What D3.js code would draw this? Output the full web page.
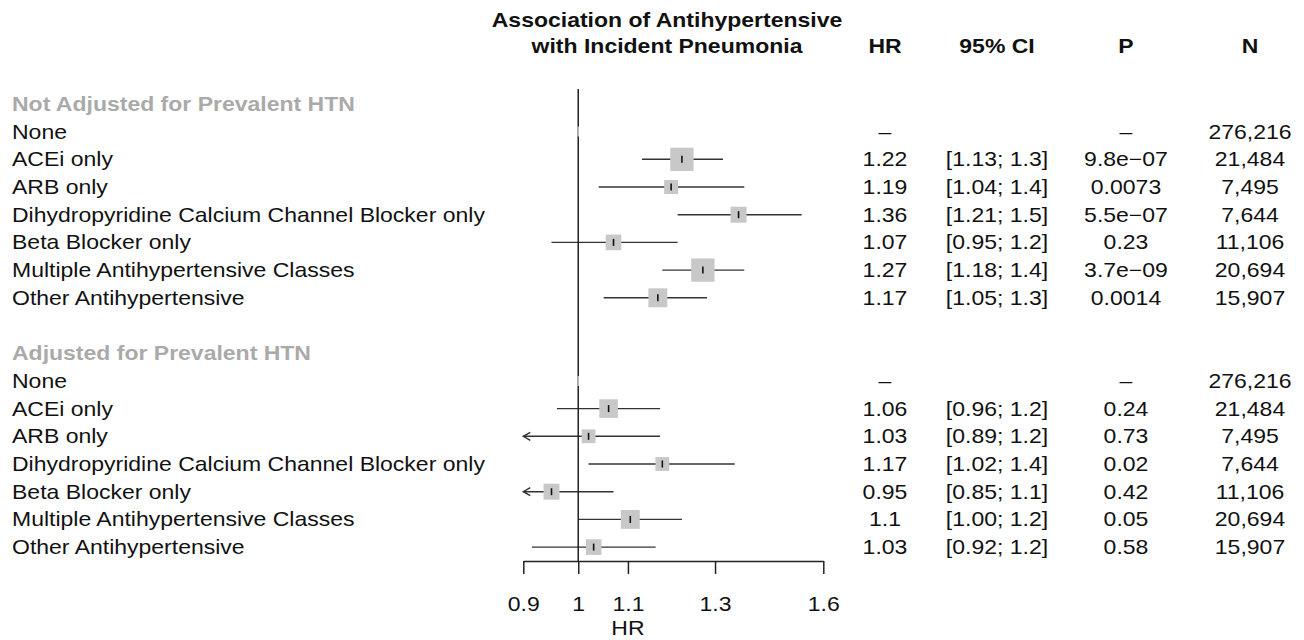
<!DOCTYPE html>
<html>
<head>
<meta charset="utf-8">
<script src="https://cdn.jsdelivr.net/npm/d3@7"></script>
<style>
  html, body { margin: 0; padding: 0; background: #fff; }
  svg { display: block; font-family: "Liberation Sans", Arial, Helvetica, sans-serif; }
</style>
</head>
<body>
<svg id="chart" width="1304" height="640"></svg>
<script>
// ---------------- data ----------------
const titleLines = ["Association of Antihypertensive", "with Incident Pneumonia"];
const columnHeaders = ["HR", "95% CI", "P", "N"];
const groupLabels = ["Not Adjusted for Prevalent HTN", "Adjusted for Prevalent HTN"];
const categories = [
  "None",
  "ACEi only",
  "ARB only",
  "Dihydropyridine Calcium Channel Blocker only",
  "Beta Blocker only",
  "Multiple Antihypertensive Classes",
  "Other Antihypertensive"
];

// Not adjusted
const hrNotAdj    = [1,    1.22, 1.195, 1.36,  1.07, 1.27,  1.165];
const lowerNotAdj = [null, 1.13, 1.04,  1.21,  0.95, 1.175, 1.05];
const upperNotAdj = [null, 1.32, 1.375, 1.535, 1.21, 1.375, 1.28];
const weightNotAdj = [null, 100, 36, 47, 45, 100, 66];
const hrTextNotAdj = ["\u2013", "1.22", "1.19", "1.36", "1.07", "1.27", "1.17"];
const ciTextNotAdj = ["", "[1.13; 1.3]", "[1.04; 1.4]", "[1.21; 1.5]", "[0.95; 1.2]", "[1.18; 1.4]", "[1.05; 1.3]"];
const pTextNotAdj  = ["\u2013", "9.8e\u221207", "0.0073", "5.5e\u221207", "0.23", "3.7e\u221209", "0.0014"];

// Adjusted
const hrAdj    = [1,    1.06, 1.02, 1.175, 0.95, 1.105, 1.03];
const lowerAdj = [null, 0.96, 0.89, 1.02,  0.85, 1.00,  0.915];
const upperAdj = [null, 1.17, 1.17, 1.35,  1.07, 1.22,  1.16];
const weightAdj = [null, 64, 35, 35, 47, 66, 45];
const hrTextAdj = ["\u2013", "1.06", "1.03", "1.17", "0.95", "1.1", "1.03"];
const ciTextAdj = ["", "[0.96; 1.2]", "[0.89; 1.2]", "[1.02; 1.4]", "[0.85; 1.1]", "[1.00; 1.2]", "[0.92; 1.2]"];
const pTextAdj  = ["\u2013", "0.24", "0.73", "0.02", "0.42", "0.05", "0.58"];

const nValues = [276216, 21484, 7495, 7644, 11106, 20694, 15907];

const axisTicks = [0.9, 1, 1.1, 1.3, 1.6];
const axisLabel = "HR";

// ---------------- layout ----------------
const FS = 20, SX = 1.15;
const rowStep = 27.7, row0 = 103.9;
const labelX = 12;
const colX = [885, 997, 1126, 1250];
const lineColor = "#333";
const boxColor = "#c8c8c8";
const grayText = "#aaaaaa";

const svg = d3.select("#chart");
const x = d3.scaleLog().domain([0.9, 1.6]).range([523.3, 823.3]);
const boxSize = d3.scaleSqrt().domain([0, 100]).range([0, 23.3]);

function stext(g, tx, ty, str, opts = {}) {
  return g.append("text")
    .attr("transform", `translate(${tx},${ty}) scale(${SX},1)`)
    .attr("text-anchor", opts.anchor || "start")
    .attr("font-size", FS)
    .attr("font-weight", opts.bold ? "bold" : "normal")
    .attr("fill", opts.fill || "#111")
    .text(str);
}

// build rows
const groups = [
  {label: groupLabels[0], hr: hrNotAdj, lo: lowerNotAdj, hi: upperNotAdj, w: weightNotAdj, hrT: hrTextNotAdj, ciT: ciTextNotAdj, pT: pTextNotAdj},
  {label: groupLabels[1], hr: hrAdj, lo: lowerAdj, hi: upperAdj, w: weightAdj, hrT: hrTextAdj, ciT: ciTextAdj, pT: pTextAdj}
];
const rows = [];
let r = 0;
groups.forEach((g, gi) => {
  rows.push({type: "header", label: g.label, row: r++});
  categories.forEach((c, i) => {
    rows.push({type: "item", label: c, row: r++, hr: g.hr[i], lo: g.lo[i], hi: g.hi[i], w: g.w[i],
      hrT: g.hrT[i], ciT: g.ciT[i], pT: g.pT[i], n: nValues[i]});
  });
  if (gi === 0) r++; // blank spacer
});
const yOf = row => row0 + row * rowStep;
const lastRow = r - 1;
const axisY = yOf(lastRow) + rowStep / 2;

// title & column headers
const head = svg.append("g");
stext(head, 667, 27, titleLines[0], {anchor: "middle", bold: true});
stext(head, 667, 53, titleLines[1], {anchor: "middle", bold: true});
columnHeaders.forEach((h, i) => stext(head, colX[i], 53, h, {anchor: "middle", bold: true}));

// labels & columns
const tg = svg.append("g");
const fmtN = d3.format(",");
rows.forEach(d => {
  const by = yOf(d.row) + 7;
  if (d.type === "header") {
    stext(tg, labelX, by, d.label, {bold: true, fill: grayText});
  } else {
    stext(tg, labelX, by, d.label);
    stext(tg, colX[0], by, d.hrT, {anchor: "middle"});
    if (d.ciT) stext(tg, colX[1], by, d.ciT, {anchor: "middle"});
    stext(tg, colX[2], by, d.pT, {anchor: "middle"});
    stext(tg, colX[3], by, fmtN(d.n), {anchor: "middle"});
  }
});

// plot marks
const pg = svg.append("g");
const items = rows.filter(d => d.type === "item");
const xmin = x.domain()[0], xmax = x.domain()[1];

// CI lines
items.filter(d => d.lo != null).forEach(d => {
  const y = yOf(d.row);
  const x1 = x(Math.max(d.lo, xmin)), x2 = x(Math.min(d.hi, xmax));
  pg.append("line").attr("x1", x1).attr("x2", x2).attr("y1", y).attr("y2", y)
    .attr("stroke", lineColor).attr("stroke-width", 1.4);
  if (d.lo < xmin) {
    pg.append("path")
      .attr("d", `M${x1 + 7},${y - 4} L${x1},${y} L${x1 + 7},${y + 4}`)
      .attr("fill", "none").attr("stroke", lineColor).attr("stroke-width", 1.4);
  }
});

// reference line
pg.append("line").attr("x1", x(1)).attr("x2", x(1))
  .attr("y1", 89).attr("y2", axisY)
  .attr("stroke", "#222").attr("stroke-width", 1.5);

// boxes
items.filter(d => d.w != null).forEach(d => {
  const y = yOf(d.row), s = boxSize(d.w);
  pg.append("rect").attr("x", x(d.hr) - s / 2).attr("y", y - s / 2)
    .attr("width", s).attr("height", s).attr("fill", boxColor);
});
// estimate ticks
items.forEach(d => {
  const y = yOf(d.row);
  const isRef = d.lo == null;
  pg.append("line").attr("x1", x(d.hr)).attr("x2", x(d.hr))
    .attr("y1", y - (isRef ? 5 : 3.5)).attr("y2", y + (isRef ? 5 : 3.5))
    .attr("stroke", isRef ? "#bbb" : "#111").attr("stroke-width", isRef ? 1.5 : 1.6);
});

// axis
const axis = d3.axisBottom(x).tickValues(axisTicks).tickFormat(d => String(d))
  .tickSize(13).tickSizeOuter(0).tickPadding(23);
const ag = svg.append("g").attr("transform", `translate(0,${axisY})`).call(axis);
ag.select(".domain").attr("stroke", "#222").attr("stroke-width", 1.5);
ag.selectAll(".tick line").attr("stroke", "#222").attr("stroke-width", 1.5);
ag.selectAll(".tick text").attr("font-size", FS).attr("fill", "#111")
  .attr("font-family", "Liberation Sans, Arial, sans-serif")
  .attr("transform", `scale(${SX},1)`);
stext(svg, x(1.1), axisY + 74, axisLabel, {anchor: "middle"});
</script>
</body>
</html>
